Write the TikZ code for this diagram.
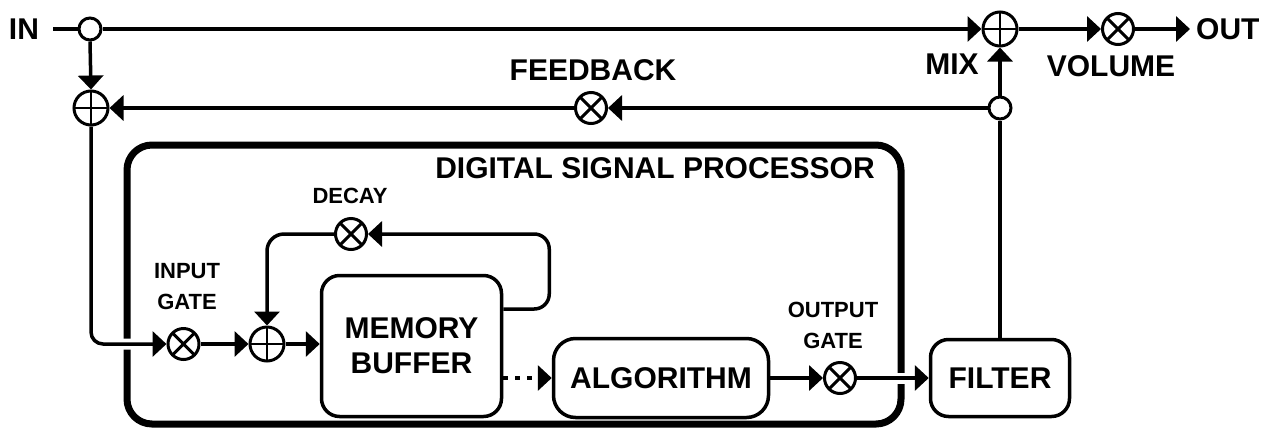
\documentclass[tikz,border=0pt]{standalone}
\usepackage{fontspec}
\setmainfont{Liberation Sans}
\usetikzlibrary{arrows.meta,calc}
\newcommand\lblbig{\fontsize{30}{35}\selectfont\bfseries}
\newcommand\lblsmall{\fontsize{22}{31}\selectfont\bfseries}
\begin{document}
\begin{tikzpicture}[x=1pt,y=-1pt,
  conn/.style={line width=3.5pt, -{Triangle[length=14pt,width=25pt]}},
  plain/.style={line width=3.5pt},
  sumnode/.style={circle, draw, line width=3pt, minimum size=34pt, inner sep=0pt, fill=white,
    path picture={\draw[line width=2pt] (path picture bounding box.north) -- (path picture bounding box.south)
      (path picture bounding box.west) -- (path picture bounding box.east);}},
  mulnode/.style={circle, draw, line width=3pt, minimum size=31pt, inner sep=0pt, fill=white,
    path picture={\draw[line width=3pt] (path picture bounding box.north west) -- (path picture bounding box.south east)
      (path picture bounding box.north east) -- (path picture bounding box.south west);}},
  tapnode/.style={circle, draw, line width=3pt, minimum size=22pt, inner sep=0pt, fill=white},
  block/.style={draw, line width=3.5pt, rounded corners=18pt, align=center, font=\lblbig, inner sep=0pt},
  biglabel/.style={font=\lblbig, inner sep=0pt},
  smalllabel/.style={font=\lblsmall, align=center, inner sep=0pt},
  gap/.style={preaction={draw=white, line width=11pt, -, shorten <=18pt, shorten >=18pt}},
]
\useasboundingbox (0,0) rectangle (1269,432);

% DSP container
\node[draw, line width=7pt, rounded corners=25pt, minimum width=774pt, minimum height=279pt, inner sep=0pt] (dsp) at (514,284.5) {};
\node[biglabel] (dsplbl) at (655,168) {DIGITAL SIGNAL PROCESSOR};

% top row
\node[biglabel] (inlbl) at (24,29) {IN};
\coordinate (instart) at (53,29);
\node[tapnode] (tap1) at (90,29) {};
\node[sumnode] (mix) at (1000,29) {};
\node[mulnode] (vol) at (1118,29) {};
\node[biglabel, anchor=west, inner xsep=6pt] (out) at (1190,29) {OUT};
\node[biglabel] (mixlbl) at (952,64) {MIX};
\node[biglabel] (vollbl) at (1111,66) {VOLUME};

% feedback row
\node[sumnode] (sumL) at (91,108) {};
\node[mulnode] (fb) at (591,108) {};
\node[tapnode] (tap2) at (1000,108) {};
\node[biglabel] (fblbl) at (593,70) {FEEDBACK};

% inner blocks
\node[mulnode] (ig) at (183.5,344) {};
\node[smalllabel] (iglbl) at (187,287) {INPUT\\GATE};
\node[sumnode] (sum2) at (267,344) {};
\node[block, minimum width=180pt, minimum height=141pt] (mem) at (411.5,346) {MEMORY\\BUFFER};
\node[mulnode] (decay) at (351,234) {};
\node[smalllabel] (decaylbl) at (350,196) {DECAY};
\node[block, rounded corners=22pt, minimum width=215pt, minimum height=79pt] (alg) at (661,378) {ALGORITHM};
\node[mulnode] (og) at (840,378) {};
\node[smalllabel] (oglbl) at (833,325) {OUTPUT\\GATE};
\node[block, minimum width=139pt, minimum height=77pt] (filter) at (1000,378) {FILTER};

% connectors
\draw[plain] (instart) -- (tap1.west);
\draw[conn] (tap1.east) -- (mix.west);
\draw[conn] (mix.east) -- (vol.west);
\draw[conn] (vol.east) -- (out.west);
\draw[conn] (tap1.south) -- (sumL.north);
\draw[conn] (tap2.west) -- (fb.east);
\draw[conn] (fb.west) -- (sumL.east);
\draw[conn] (tap2.north) -- (mix.south);
\draw[plain] (filter.north) -- (tap2.south);
\draw[conn, gap, rounded corners=12pt] (sumL.south) |- (ig.west);
\draw[conn] (ig.east) -- (sum2.west);
\draw[conn] (sum2.east) -- (mem.west |- sum2.east);
\draw[conn, rounded corners=15pt] ([yshift=37pt]mem.east) -- ++(46,0) |- (decay.east);
\draw[conn, rounded corners=17pt] (decay.west) -| (sum2.north);
\draw[conn, dash pattern=on 5pt off 7pt] (mem.east |- alg.west) -- (alg.west);
\draw[conn] (alg.east) -- (og.west);
\draw[conn, gap] (og.east) -- (filter.west);
\end{tikzpicture}
\end{document}
